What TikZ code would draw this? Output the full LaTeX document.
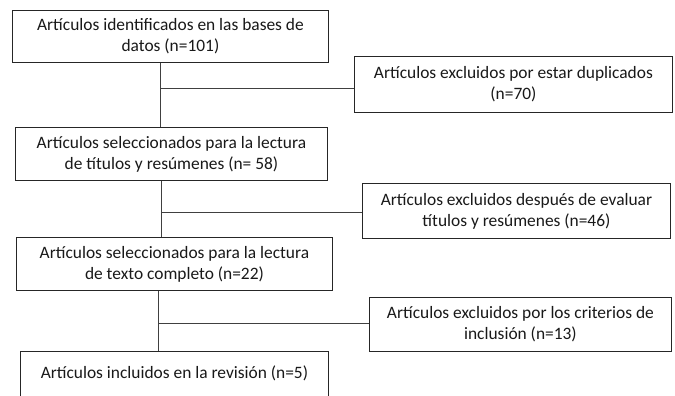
\documentclass[tikz,border=0pt]{standalone}
\usepackage{fontspec}
\setmainfont{Carlito}
\begin{document}
\begin{tikzpicture}[x=1pt,y=-1pt,
  box/.style={draw=black!85, line width=0.9pt, anchor=north west, align=center,
    inner sep=0pt, font=\fontsize{17.4}{21}\selectfont, text=black!90},
  conn/.style={draw=black!75, line width=0.9pt}]
\clip (0,0) rectangle (675,396);
\fill[white] (0,0) rectangle (675,396);
% main column
\node[box, minimum width=316pt, minimum height=52pt] (b1) at (12,10)
  {Artículos identificados en las bases de\\datos (n=101)};
\node[box, minimum width=312pt, minimum height=53pt] (b3) at (15,127)
  {Artículos seleccionados para la lectura\\de títulos y resúmenes (n= 58)};
\node[box, minimum width=316pt, minimum height=53pt] (b5) at (16,237)
  {Artículos seleccionados para la lectura\\de texto completo (n=22)};
\node[box, minimum width=308pt, minimum height=62pt] (b7) at (20,351)
  {Artículos incluidos en la revisión (n=5)\\\mbox{}};
% side boxes
\node[box, minimum width=318pt, minimum height=56pt] (b2) at (354,56)
  {Artículos excluidos por estar duplicados\\(n=70)};
\node[box, minimum width=308pt, minimum height=55pt] (b4) at (362,183)
  {Artículos excluidos después de evaluar\\títulos y resúmenes (n=46)};
\node[box, minimum width=302pt, minimum height=54pt] (b6) at (369,297)
  {Artículos excluidos por los criterios de\\inclusión (n=13)};
% junctions
\coordinate (j1) at (160,88);
\coordinate (j2) at (161,212);
\coordinate (j3) at (158,323);
\draw[conn] (b1.south -| j1) -- (b3.north -| j1);
\draw[conn] (j1) -- (j1 -| b2.west);
\draw[conn] (b3.south -| j2) -- (b5.north -| j2);
\draw[conn] (j2) -- (j2 -| b4.west);
\draw[conn] (b5.south -| j3) -- (b7.north -| j3);
\draw[conn] (j3) -- (j3 -| b6.west);
\end{tikzpicture}
\end{document}
